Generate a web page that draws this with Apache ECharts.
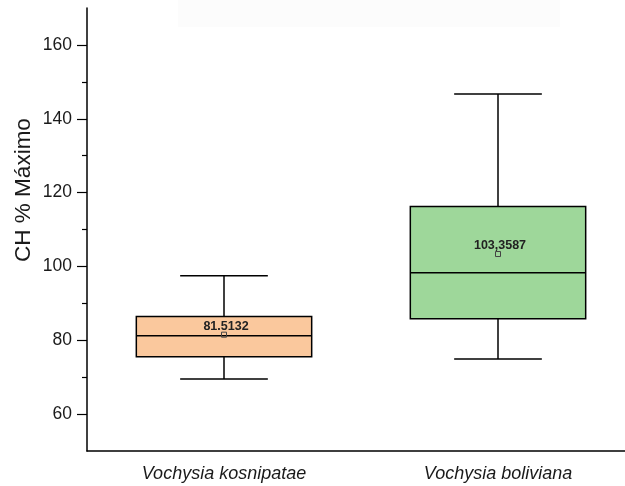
<!DOCTYPE html>
<html>
<head>
<meta charset="utf-8">
<script src="https://cdn.jsdelivr.net/npm/echarts@6/dist/echarts.min.js"></script>
<style>html,body{margin:0;padding:0;background:#fff}#c{width:625px;height:486px}</style>
</head>
<body>
<div id="c"></div>
<script>
var categories = ['Vochysia kosnipatae', 'Vochysia boliviana'];
var whiskerLow = [69.5, 74.9];
var q1 = [75.5, 85.8];
var medians = [81.2, 98.3];
var q3 = [86.4, 116.2];
var whiskerHigh = [97.5, 146.7];
var means = [81.5132, 103.3587];
var meanLabels = ['81.5132', '103,3587'];
var boxColors = ['#FAC89D', '#9ED79A'];
var majorTicks = [60, 80, 100, 120, 140, 160];
var minorTicks = [70, 90, 110, 130, 150];

var FONT = 'Arial, "Liberation Sans", sans-serif';
var data = categories.map(function (c, i) {
  return [i, whiskerLow[i], q1[i], medians[i], q3[i], whiskerHigh[i], means[i]];
});

var chart = echarts.init(document.getElementById('c'));
chart.setOption({
  animation: false,
  backgroundColor: '#fff',
  graphic: [
    { type: 'rect', shape: { x: 178, y: 0, width: 382, height: 27 }, style: { fill: '#fcfcfc' }, z: -10 },
    { type: 'text', x: 24, y: 190, rotation: Math.PI / 2,
      style: { text: 'CH % Máximo', font: '22.5px ' + FONT, fill: '#1a1a1a', textAlign: 'center', textVerticalAlign: 'middle' } }
  ],
  grid: { left: 87, top: 8, bottom: 35, width: 548, outerBoundsMode: 'none', containLabel: false },
  xAxis: {
    type: 'category',
    data: categories,
    boundaryGap: true,
    axisLine: { lineStyle: { color: '#000', width: 1.5 } },
    axisTick: { alignWithLabel: true, length: 7, lineStyle: { color: '#000', width: 1.2 } },
    axisLabel: { margin: 14, fontSize: 18, fontStyle: 'italic', fontFamily: FONT, color: '#1a1a1a' },
    splitLine: { show: false }
  },
  yAxis: [{
    type: 'value', min: 50, max: 170, position: 'left',
    axisLine: { show: true, lineStyle: { color: '#000', width: 1.5 } },
    axisTick: { show: true, length: 10, customValues: majorTicks, lineStyle: { color: '#000', width: 1.2 } },
    axisLabel: { margin: 15, fontSize: 17.5, fontFamily: FONT, color: '#1a1a1a', customValues: majorTicks },
    splitLine: { show: false }
  }, {
    type: 'value', min: 50, max: 170, position: 'left', offset: 0,
    axisLine: { show: false },
    axisTick: { show: true, length: 5, customValues: minorTicks, lineStyle: { color: '#000', width: 1.2 } },
    axisLabel: { show: false },
    splitLine: { show: false }
  }],
  series: [{
    type: 'custom',
    data: data,
    encode: { x: 0, y: [1, 2, 3, 4, 5, 6] },
    renderItem: function (params, api) {
      var i = api.value(0);
      var band = api.size([1, 0])[0];
      var bw = band * 0.64, cw = bw * 0.5;
      var pLow = api.coord([i, api.value(1)]);
      var pQ1 = api.coord([i, api.value(2)]);
      var pMed = api.coord([i, api.value(3)]);
      var pQ3 = api.coord([i, api.value(4)]);
      var pHigh = api.coord([i, api.value(5)]);
      var pMean = api.coord([i, api.value(6)]);
      var x = pQ1[0];
      var ls = { stroke: '#000', lineWidth: 1.5 };
      return {
        type: 'group',
        children: [
          { type: 'line', shape: { x1: x, y1: pHigh[1], x2: x, y2: pQ3[1] }, style: ls },
          { type: 'line', shape: { x1: x, y1: pQ1[1], x2: x, y2: pLow[1] }, style: ls },
          { type: 'line', shape: { x1: x - cw / 2, y1: pHigh[1], x2: x + cw / 2, y2: pHigh[1] }, style: ls },
          { type: 'line', shape: { x1: x - cw / 2, y1: pLow[1], x2: x + cw / 2, y2: pLow[1] }, style: ls },
          { type: 'rect', shape: { x: x - bw / 2, y: pQ3[1], width: bw, height: pQ1[1] - pQ3[1] },
            style: { fill: boxColors[params.dataIndex], stroke: '#000', lineWidth: 1.5 } },
          { type: 'line', shape: { x1: x - bw / 2, y1: pMed[1], x2: x + bw / 2, y2: pMed[1] }, style: ls },
          { type: 'rect', shape: { x: pMean[0] - 2.5, y: pMean[1] - 2.5, width: 5, height: 5 },
            style: { fill: 'none', stroke: '#444', lineWidth: 1 } },
          { type: 'text', x: pMean[0] + 2, y: pMean[1] - 8,
            style: { text: meanLabels[params.dataIndex], font: 'bold 12.5px ' + FONT, fill: '#222',
                     textAlign: 'center', textVerticalAlign: 'middle' } }
        ]
      };
    }
  }]
});
</script>
</body>
</html>
